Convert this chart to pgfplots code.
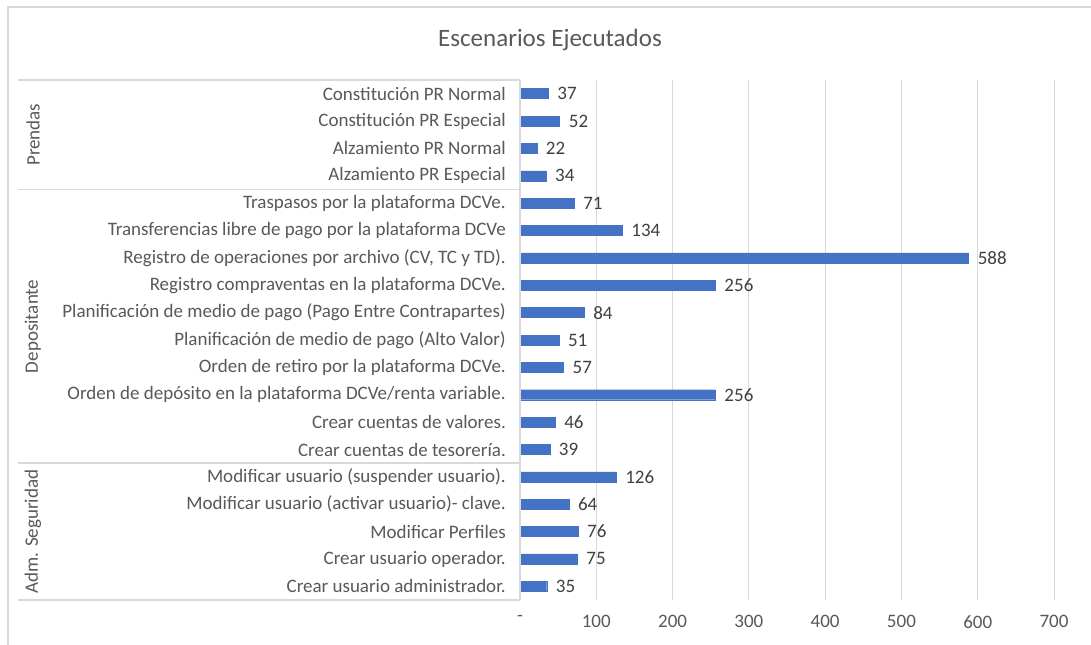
\documentclass[border=0pt]{standalone}
\usepackage{pgfplots}
\pgfplotsset{compat=1.18}
\usepackage{fontspec}
\setmainfont{Carlito}
\definecolor{barblue}{HTML}{4472C4}
\definecolor{gridgray}{HTML}{D9D9D9}
\definecolor{txtgray}{HTML}{595959}
\definecolor{lblgray}{HTML}{404040}
\begin{document}
\begin{tikzpicture}
\useasboundingbox (0,0) rectangle (1091bp,645bp);
\fill[white] (0,0) rectangle (1091bp,645bp);
\draw[gridgray, line width=1.5bp] (8bp,0) -- (8bp,638bp) -- (1091bp,638bp);
\node[font=\fontsize{25bp}{28bp}\selectfont, text=txtgray] at (550bp,605bp) {Escenarios Ejecutados};
\begin{axis}[
  at={(520bp,45bp)}, anchor=south west,
  scale only axis, width=534bp, height=520bp,
  xmin=0, xmax=700, ymin=-0.5, ymax=18.5,
  y dir=reverse,
  xbar, bar width=10bp,
  axis line style={draw=none},
  major tick length=0pt,
  xmajorgrids, grid style={gridgray, line width=1bp},
  xtick={0,100,200,300,400,500,600,700},
  xticklabels={-,100,200,300,400,500,600,700},
  xticklabel style={font=\fontsize{19bp}{22bp}\selectfont, text=txtgray, inner sep=0pt, anchor=north, yshift=-15bp},
  ytick={0,...,18},
  yticklabels={
    Constitución PR Normal,
    Constitución PR Especial,
    Alzamiento PR Normal,
    Alzamiento PR Especial,
    Traspasos por la plataforma DCVe.,
    Transferencias libre de pago por la plataforma DCVe,
    {Registro de operaciones por archivo (CV, TC y TD).},
    Registro compraventas en la plataforma DCVe.,
    Planificación de medio de pago (Pago Entre Contrapartes),
    Planificación de medio de pago (Alto Valor),
    Orden de retiro por la plataforma DCVe.,
    Orden de depósito en la plataforma DCVe/renta variable.,
    Crear cuentas de valores.,
    Crear cuentas de tesorería.,
    Modificar usuario (suspender usuario).,
    Modificar usuario (activar usuario)- clave.,
    Modificar Perfiles,
    Crear usuario operador.,
    Crear usuario administrador.},
  yticklabel style={font=\fontsize{19bp}{22bp}\selectfont, text=txtgray, inner sep=0pt, anchor=east, xshift=-14bp},
  nodes near coords,
  /pgf/number format/assume math mode=true,
  every node near coord/.append style={font=\fontsize{19bp}{22bp}\selectfont, text=lblgray, anchor=west, inner sep=0pt, xshift=9bp},
  clip=false,
]
\addplot[fill=barblue, draw=barblue] table[x=v, y=i] {
i v
0 37
1 52
2 22
3 34
4 71
5 134
6 588
7 256
8 84
9 51
10 57
11 256
12 46
13 39
14 126
15 64
16 76
17 75
18 35
};
\draw[gridgray, line width=1.5bp] (axis cs:0,-0.5) -- (axis cs:0,18.5);
\draw[gridgray, line width=1.5bp] (axis cs:0,-0.5) -- ++(-502bp,0bp);
\draw[gridgray, line width=1.5bp] (axis cs:0,3.5) -- ++(-502bp,0bp);
\draw[gridgray, line width=1.5bp] (axis cs:0,13.5) -- ++(-502bp,0bp);
\draw[gridgray, line width=1.5bp] (axis cs:0,18.5) -- ++(-502bp,0bp);
\node[rotate=90, font=\fontsize{19bp}{22bp}\selectfont, text=txtgray] at ([xshift=-487bp]axis cs:0,1.5) {Prendas};
\node[rotate=90, font=\fontsize{19bp}{22bp}\selectfont, text=txtgray] at ([xshift=-487bp]axis cs:0,8.5) {Depositante};
\node[rotate=90, font=\fontsize{19bp}{22bp}\selectfont, text=txtgray] at ([xshift=-487bp]axis cs:0,16) {Adm. Seguridad};
\end{axis}
\end{tikzpicture}
\end{document}
